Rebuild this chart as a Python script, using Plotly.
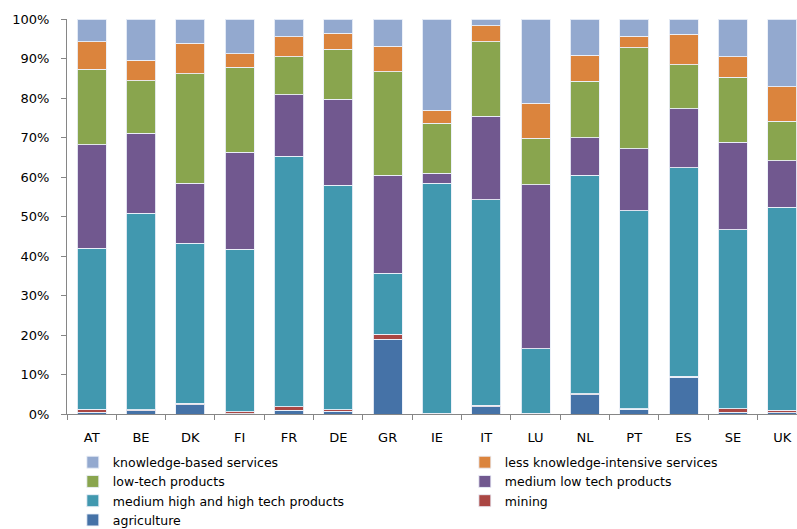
import plotly.graph_objects as go

countries = ["AT", "BE", "DK", "FI", "FR", "DE", "GR", "IE", "IT", "LU", "NL", "PT", "ES", "SE", "UK"]

# shares in % (bottom to top of each stacked bar)
agriculture = [0.5, 0.8, 2.4, 0.1, 1.0, 0.7, 18.9, 0.1, 1.9, 0.1, 4.9, 1.2, 9.3, 0.4, 0.3]
mining = [0.7, 0.3, 0.3, 0.5, 0.9, 0.4, 1.3, 0.1, 0.3, 0.1, 0.2, 0.1, 0.2, 0.9, 0.7]
medium_high_tech = [40.7, 49.7, 40.5, 41.1, 63.4, 56.8, 15.4, 58.2, 52.0, 16.3, 55.3, 50.1, 52.9, 45.3, 51.4]
medium_low_tech = [26.3, 20.3, 15.2, 24.6, 15.5, 21.8, 24.8, 2.5, 21.2, 41.6, 9.6, 15.7, 14.9, 22.2, 11.7]
low_tech = [19.1, 13.3, 27.7, 21.5, 9.7, 12.6, 26.2, 12.7, 18.9, 11.7, 14.3, 25.6, 11.1, 16.5, 10.0]
less_knowledge = [6.9, 5.1, 7.7, 3.4, 5.0, 4.1, 6.5, 3.3, 4.0, 8.9, 6.5, 2.9, 7.8, 5.2, 8.7]
knowledge_based = [5.8, 10.5, 6.2, 8.8, 4.5, 3.6, 6.9, 23.1, 1.7, 21.3, 9.2, 4.4, 3.8, 9.5, 17.2]

y_ticks = [0, 10, 20, 30, 40, 50, 60, 70, 80, 90, 100]
y_labels = [f"{v}%" for v in y_ticks]

# name, values, colour, which legend column
series = [
    ("agriculture", agriculture, "#4572A7", "legend"),
    ("mining", mining, "#AA4643", "legend2"),
    ("medium high and high tech products", medium_high_tech, "#4198AF", "legend"),
    ("medium low tech products", medium_low_tech, "#71588F", "legend2"),
    ("low-tech products", low_tech, "#89A54E", "legend"),
    ("less knowledge-intensive services", less_knowledge, "#DB843D", "legend2"),
    ("knowledge-based services", knowledge_based, "#93A9CF", "legend"),
]

font = "DejaVu Sans, sans-serif"

fig = go.Figure()
for name, vals, col, leg in series:
    fig.add_trace(go.Bar(
        x=countries, y=vals, name=name, legend=leg,
        marker=dict(color=col, line=dict(color="rgba(235,240,248,0.9)", width=1)),
    ))

legend_style = dict(
    orientation="v", traceorder="reversed",
    yanchor="top", y=-0.085, xanchor="left",
    font=dict(size=12.5, color="#000"), itemwidth=30, tracegroupgap=0,
    bgcolor="rgba(0,0,0,0)",
)

fig.update_layout(
    barmode="stack",
    bargap=0.41,
    width=797, height=529,
    margin=dict(l=67, r=0, t=19, b=115, autoexpand=False),
    plot_bgcolor="white", paper_bgcolor="white",
    font=dict(family=font, size=13, color="#000"),
    showlegend=True,
    legend=dict(x=0.008, **legend_style),
    legend2=dict(x=0.545, **legend_style),
)
fig.update_xaxes(
    range=[-0.5, 14.3],
    showline=True, linecolor="#868686", linewidth=1,
    ticks="outside", tickson="boundaries", ticklen=5, tickcolor="#868686",
    showgrid=False,
    tickfont=dict(size=13),
    ticklabelstandoff=11,
)
fig.update_yaxes(
    range=[0, 100],
    tickvals=y_ticks, ticktext=y_labels,
    showline=True, linecolor="#868686", linewidth=1,
    ticks="outside", ticklen=5, tickcolor="#868686",
    showgrid=False, zeroline=False,
    tickfont=dict(size=13),
    ticklabelstandoff=9,
)

# drop the page's default body margin so the figure fills the window exactly
fig.write_html("out.html", config={"displayModeBar": False},
               post_script="document.body.style.margin='0';")
